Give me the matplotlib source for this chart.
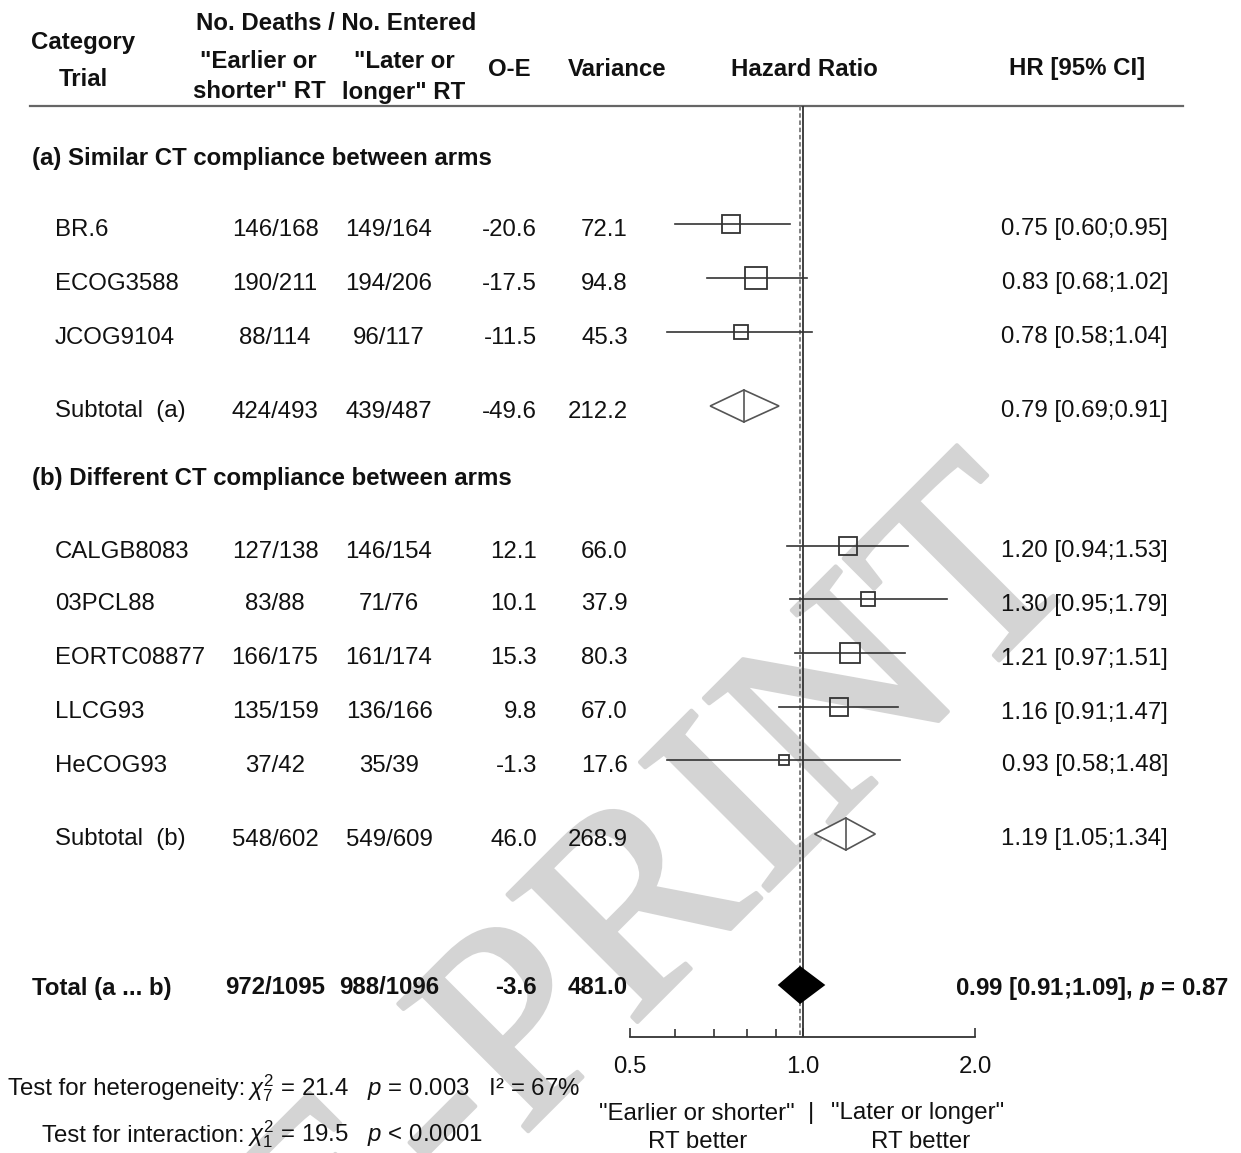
import numpy as np
import matplotlib
matplotlib.use("Agg")
import matplotlib.pyplot as plt
import matplotlib.patheffects as pe
from matplotlib.patches import Polygon

# ---------------- data ----------------
trials = ["BR.6", "ECOG3588", "JCOG9104", "CALGB8083", "03PCL88",
          "EORTC08877", "LLCG93", "HeCOG93"]
groups = ["a", "a", "a", "b", "b", "b", "b", "b"]
early = ["146/168", "190/211", "88/114", "127/138", "83/88",
         "166/175", "135/159", "37/42"]
late = ["149/164", "194/206", "96/117", "146/154", "71/76",
        "161/174", "136/166", "35/39"]
oe = [-20.6, -17.5, -11.5, 12.1, 10.1, 15.3, 9.8, -1.3]
variance = [72.1, 94.8, 45.3, 66.0, 37.9, 80.3, 67.0, 17.6]
hr = [0.75, 0.83, 0.78, 1.20, 1.30, 1.21, 1.16, 0.93]
hr_lo = [0.60, 0.68, 0.58, 0.94, 0.95, 0.97, 0.91, 0.58]
hr_hi = [0.95, 1.02, 1.04, 1.53, 1.79, 1.51, 1.47, 1.48]

group_titles = ["(a) Similar CT compliance between arms",
                "(b) Different CT compliance between arms"]
sub_labels = ["Subtotal  (a)", "Subtotal  (b)"]
sub_early = ["424/493", "548/602"]
sub_late = ["439/487", "549/609"]
sub_oe = [-49.6, 46.0]
sub_var = [212.2, 268.9]
sub_hr = [0.79, 1.19]
sub_lo = [0.69, 1.05]
sub_hi = [0.91, 1.34]

tot_label = "Total (a ... b)"
tot_early = "972/1095"
tot_late = "988/1096"
tot_oe = -3.6
tot_var = 481.0
tot_hr, tot_lo, tot_hi, tot_p = 0.99, 0.91, 1.09, "0.87"

het_text = r"$\chi^2_7$ = 21.4   $\mathit{p}$ = 0.003   I² = 67%"
int_text = r"$\chi^2_1$ = 19.5   $\mathit{p}$ < 0.0001"
x_ticks = [0.5, 1.0, 2.0]
x_minor = [0.6, 0.7, 0.8, 0.9]

# ---------------- layout (pixels) ----------------
W, H = 1241, 1153
trial_y = [227, 281, 335, 549, 602, 656, 710, 763]
sub_y = [409, 837]
title_y = [157, 477]
tot_y = 986
mark_dy = -3
base_dy = 8.5          # text baseline offset from row centre
col_label = 55
col_early, col_late, col_oe, col_var, col_hr = 275, 389, 537, 628, 1168

plt.rcParams["font.family"] = ["Liberation Sans", "DejaVu Sans"]
plt.rcParams["mathtext.fontset"] = "custom"
plt.rcParams["mathtext.rm"] = "Liberation Sans"
plt.rcParams["mathtext.it"] = "Liberation Sans:italic"
plt.rcParams["mathtext.sf"] = "Liberation Sans:italic:bold"
FS = 17.3
TXT = "#111111"
LINE = "#333333"

fig = plt.figure(figsize=(W / 100, H / 100), dpi=100)
tax = fig.add_axes([0, 0, 1, 1])
tax.set_xlim(0, W)
tax.set_ylim(H, 0)
tax.axis("off")

# watermark
wm = tax.text(545, 1020, "PRE-PRINT", family="Liberation Serif", fontsize=200,
              color="#d4d4d4", rotation=45, ha="center", va="center", zorder=0,
              rotation_mode="anchor", clip_on=True)
wm.set_path_effects([pe.withStroke(linewidth=3, foreground="#d4d4d4")])


def put(x, y, s, **kw):
    tax.text(x, y + base_dy, s, va="baseline", **kw)


# header
hdr = dict(fontsize=FS, fontweight="bold", color=TXT, ha="center")
put(83, 40, "Category", **hdr)
put(83, 77, "Trial", **hdr)
put(336, 22, "No. Deaths / No. Entered", **hdr)
put(258, 60, '"Earlier or', **hdr)
put(259, 90, 'shorter" RT', **hdr)
put(404, 60, '"Later or', **hdr)
put(404, 90, 'longer" RT', **hdr)
put(509, 67, "O-E", **hdr)
put(617, 67, "Variance", **hdr)
put(804, 67, "Hazard Ratio", **hdr)
put(1077, 67, "HR [95% CI]", **hdr)
tax.plot([30, 1183], [106, 106], color="#666666", lw=1.6)

reg = dict(fontsize=FS, color=TXT)
for t, yy in zip(group_titles, title_y):
    put(32, yy, t, fontweight="bold", ha="left", **reg)


def row_text(yy, label, e, l, o, v, bold=False, lx=col_label):
    kw = dict(reg)
    if bold:
        kw["fontweight"] = "bold"
    put(lx, yy, label, ha="left", **kw)
    put(col_early, yy, e, ha="center", **kw)
    put(col_late, yy, l, ha="center", **kw)
    put(col_oe, yy, f"{o:.1f}", ha="right", **kw)
    put(col_var, yy, f"{v:.1f}", ha="right", **kw)


for i in range(len(trials)):
    row_text(trial_y[i], trials[i], early[i], late[i], oe[i], variance[i])
    put(col_hr, trial_y[i], f"{hr[i]:.2f} [{hr_lo[i]:.2f};{hr_hi[i]:.2f}]",
        ha="right", **reg)
for j in range(2):
    row_text(sub_y[j], sub_labels[j], sub_early[j], sub_late[j], sub_oe[j],
             sub_var[j])
    put(col_hr, sub_y[j], f"{sub_hr[j]:.2f} [{sub_lo[j]:.2f};{sub_hi[j]:.2f}]",
        ha="right", **reg)
row_text(tot_y, tot_label, tot_early, tot_late, tot_oe, tot_var, bold=True, lx=32)
put(1229, tot_y,
    f"{tot_hr:.2f} [{tot_lo:.2f};{tot_hi:.2f}], " + r"$\mathsf{p}$" + f" = {tot_p}",
    ha="right", fontweight="bold", **reg)

# test statistics
put(245, 1087, "Test for heterogeneity:", ha="right", **reg)
put(248, 1087, het_text, ha="left", **reg)
put(245, 1133, "Test for interaction:", ha="right", **reg)
put(248, 1133, int_text, ha="left", **reg)

# direction labels
put(697, 1111, '"Earlier or shorter"', ha="center", **reg)
put(698, 1140, "RT better", ha="center", **reg)
put(811, 1111, "|", ha="center", **reg)
put(918, 1111, '"Later or longer"', ha="center", **reg)
put(921, 1140, "RT better", ha="center", **reg)

# ---------------- forest axes ----------------
x0, x1 = 630, 975
y_top, y_bot = 106, 1037
fax = fig.add_axes([x0 / W, (H - y_bot) / H, (x1 - x0) / W, (y_bot - y_top) / H])
fax.patch.set_visible(False)
fax.set_xscale("log")
fax.set_xlim(0.5, 2.0)
fax.set_ylim(y_bot, y_top)
for s in ["top", "left", "right"]:
    fax.spines[s].set_visible(False)
fax.spines["bottom"].set_color(LINE)
fax.spines["bottom"].set_linewidth(1.3)
fax.set_yticks([])
fax.set_xticks(x_ticks)
fax.set_xticklabels([f"{v:.1f}" for v in x_ticks])
fax.set_xticks(x_minor, minor=True)
fax.xaxis.set_minor_formatter(matplotlib.ticker.NullFormatter())
fax.tick_params(axis="x", which="major", direction="in", length=6.5, width=1.2,
                color=LINE, labelsize=FS, pad=14, labelcolor=TXT)
fax.tick_params(axis="x", which="minor", direction="in", length=5.5, width=1.2,
                color=LINE)

# reference lines
fax.plot([1.0, 1.0], [y_top, y_bot], color=LINE, lw=1.3, zorder=2)
fax.plot([tot_hr, tot_hr], [y_top, y_bot], color="#777777", lw=1.3,
         dashes=(2.5, 1.5), zorder=2)

px2pt = 0.72
for i in range(len(trials)):
    yy = trial_y[i] + mark_dy
    fax.plot([hr_lo[i], hr_hi[i]], [yy, yy], color=LINE, lw=1.2, zorder=3,
             clip_on=False)
    side = 2.17 * np.sqrt(variance[i]) * px2pt
    fax.plot([hr[i]], [yy], marker="s", ms=side, mfc="none", mec=LINE,
             mew=1.3, zorder=4, clip_on=False)


def diamond(est, lo, hi, yy, h, filled):
    poly = Polygon([[lo, yy], [est, yy - h / 2], [hi, yy], [est, yy + h / 2]],
                   closed=True, facecolor="black" if filled else "white",
                   edgecolor="black" if filled else "#555555", lw=1.2, zorder=5)
    fax.add_patch(poly)
    if not filled:
        fax.plot([est, est], [yy - h / 2, yy + h / 2], color="#555555", lw=1.2,
                 zorder=6)


for j in range(2):
    diamond(sub_hr[j], sub_lo[j], sub_hi[j], sub_y[j] + mark_dy, 32, False)
diamond(tot_hr, tot_lo, tot_hi, tot_y - 1, 36, True)

fig.savefig("out.png", dpi=100)
